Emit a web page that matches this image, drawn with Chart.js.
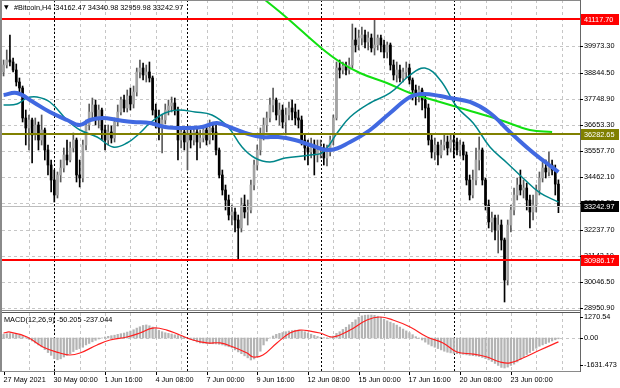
<!DOCTYPE html>
<html>
<head>
<meta charset="utf-8">
<script src="https://cdn.jsdelivr.net/npm/chart.js@4.4.1/dist/chart.umd.min.js"></script>
<style>
  html, body { margin: 0; padding: 0; background: #fff; }
</style>
</head>
<body>
<canvas id="chart" width="620" height="388"></canvas>
<script>
// H4 bars, one per index, 27 May 2021 08:00 .. 25 Jun 2021
const firstOpen = 38879
const closes = [39173,39384,39300,38963,38458,38206,36944,36523,36860,36229,
  36649,36018,36439,35598,34966,34335,33704,34546,34840,35387,
  35177,35682,36018,34546,34420,35808,36649,37196,37491,36944,
  37280,36439,36018,36355,36102,36775,37196,37701,37364,37869,
  37533,38038,38879,39047,38753,38879,38627,37280,36944,36523,
  36860,37280,37449,37575,37280,36018,36355,35934,36229,36018,
  36355,35934,36102,36439,36018,36523,36355,35598,34546,33915,
  33494,32863,32989,32653,32316,33284,32989,33073,34125,34966,
  35598,36229,36649,36944,37491,37701,37070,37280,36775,37070,
  37364,37196,36944,36860,36018,35682,35513,35808,35387,35598,
  35682,35261,35513,36018,36944,39047,38963,39131,38963,39173,
  40225,40015,40309,40436,40141,40309,39889,40015,40309,40015,
  39720,40015,39173,38753,38963,38627,38879,39047,38542,38122,
  37911,38122,37701,37364,36018,35513,35808,35387,35808,35934,
  35682,36018,35934,35598,35808,35387,34335,33704,34335,35177,
  35598,34335,33284,32568,32737,32232,32442,31811,30128,32442,
  33073,33704,34125,33915,33999,33494,32989,33284,33915,34420,
  34840,34672,34966,34756,34162.47,33242.97]
const highs = [39384,39805,40436,39468,39216,38627,38290,37280,37070,36944,
  36944,36775,37070,36523,35808,35177,34756,34672,35177,35682,
  36018,35934,36313,36102,35177,36018,36860,37533,37785,37701,
  37491,37364,36649,36649,36607,36944,37491,37827,37911,38122,
  38206,38290,39047,39384,39258,39173,39300,38711,37533,37280,
  37070,37533,37701,37827,37785,37407,36523,36523,36439,36439,
  36565,36523,36439,36607,36649,36860,36691,36649,35682,34756,
  34125,33704,33284,33157,32863,33578,33704,33494,34335,35177,
  35808,36523,36944,37196,37785,38206,37785,37575,37491,37364,
  37617,37701,37533,37280,37028,36229,36018,36102,36018,36018,
  36018,35850,35808,36186,37070,39300,39384,39300,39300,39468,
  40898,40730,40646,40772,40646,40562,40478,41117,40436,40436,
  40225,40141,40099,39384,39300,39173,39047,39300,39216,38627,
  38332,38290,38206,37911,37533,36229,36102,35934,36018,36229,
  36186,36271,36229,36102,36018,35934,35513,34546,34756,35682,
  36144,35682,34420,33494,32989,32863,32863,32653,31895,32653,
  33284,33999,34420,34756,34335,34209,33704,33704,34125,34672,
  35093,35177,35513,35177,34966,34340.98]
const lows = [38711,39047,39131,38879,38290,38038,36775,35808,35598,35051,
  36018,35598,35808,35177,34546,33831,33410,33578,34251,34672,
  34966,35093,35513,34251,34041,34251,35598,36439,36944,36649,
  36523,36018,35598,35808,35892,35934,36607,37070,37196,37196,
  37280,37364,37869,38627,38542,38458,38458,37070,36523,36018,
  35471,36691,37070,37196,37070,35177,35682,35598,34756,35682,
  35808,35177,35682,35934,35808,35850,36018,35387,34420,33704,
  33073,32653,32442,32148,30990,32148,32737,32442,32947,33915,
  34756,35387,36018,36355,36775,37196,36860,36649,36523,36229,
  36860,36860,36649,36523,35808,35177,34966,35261,34546,35093,
  35261,34966,34924,35345,35808,36860,38627,38795,38753,38795,
  39047,39720,39805,40015,39889,39805,39720,39594,39805,39720,
  39468,39468,38963,38542,38458,38458,38458,38627,38374,37701,
  37491,37617,37280,36944,35808,35261,35177,34966,35261,35598,
  35387,35513,35261,35387,35345,35177,34125,33494,33578,34125,
  34756,34125,33073,32316,32148,31811,31264,31390,29203,29918,
  32148,32863,33494,33704,33578,33073,32316,32653,32989,33704,
  34251,34420,34504,34546,33704,32959.98]

// moving averages, read at bar positions
const maBlueAt = [0,4.2,9.3,14.6,20,24,27.3,31.4,35.8,40.8,46.2,50.9,57.2,62.6,67.3,72,76.2,81.5,86.6,91.9,96.7,103,109.3,115.6,121.9,128.2,132.3,137.7,140.8,147.1,153.4,159.7,166,170.8,175]
const maBlue = [37911,37995,37617,37196,36860,36649,36860,36944,36860,36775,36733,36565,36523,36565,36733,36523,36313,36144,36144,36018,35808,35598,35934,36439,37154,37827,37953,37869,37785,37617,37154,36355,35598,35093,34672]
const maTealAt = [0,4.2,7.4,10.5,14.6,20,24.1,29.5,34.5,38.9,43,46.2,50.9,55,60.4,65.7,70.8,75.2,79.3,84,88.8,96.7,100.8,105.2,109.3,115.6,121.9,128.2,132.9,137.7,143,148.1,153.4,158.8,163.8,169.2,175]
const maTeal = [37491,37533,37785,37827,37617,36860,36439,36144,35724,35892,36313,36733,37154,37280,37196,37070,36565,35724,35261,35093,35261,35387,35513,36313,36986,37575,37996,38753,39047,38542,37407,36733,35724,35051,34420,33789,33410]
const maGreenAt = [82.5,89.4,99.8,106.1,112.4,120.9,128.2,135.5,146.2,156.6,166,173]
const maGreen = [41908,41151,39931,39300,38837,38416,37996,37701,37280,36860,36439,36355]

// MACD(12,26,9)
const macdHist = [220,260,270,250,220,160,90,20,-80,-180,
  -300,-420,-540,-700,-880,-1050,-1250,-1320,-1260,-1150,
  -1050,-950,-820,-700,-640,-560,-420,-330,-230,-140,
  -60,0,60,100,140,170,220,260,300,360,
  420,500,600,680,760,790,740,660,560,460,
  380,320,280,240,190,150,100,60,0,-80,
  -160,-240,-300,-320,-330,-340,-350,-360,-380,-420,
  -480,-530,-600,-720,-840,-950,-1080,-1200,-1330,-1270,
  -1120,-800,-420,-180,0,120,220,280,330,380,
  420,450,470,480,450,380,300,230,160,90,
  40,20,10,20,120,280,380,520,650,800,
  950,1100,1250,1340,1380,1390,1390,1370,1320,1260,
  1140,1040,960,880,780,660,540,430,320,200,
  80,-20,-120,-250,-380,-480,-560,-640,-720,-800,
  -860,-900,-930,-950,-970,-990,-1020,-1050,-1070,-1090,
  -1120,-1180,-1250,-1320,-1420,-1540,-1660,-1780,-1815,-1760,
  -1660,-1580,-1450,-1300,-1150,-1000,-880,-760,-620,-500,
  -420,-340,-260,-180,-110,-50.205]
const macdSignalAt = [0,2,7.4,12.4,17.8,20.9,24.1,29.5,33.6,38.9,43,47.1,51.5,55.6,59.7,64.2,68.3,72.4,76.8,78.7,81.8,86.2,90.3,93.5,96.7,99.8,103.9,109.3,114.6,118.7,122.8,128.2,133.6,138.6,143,148.1,152.5,156.6,159.7,163.8,169.2,175]
const macdSignal = [300,360,60,-545,-910,-1030,-910,-420,-120,60,300,600,480,180,-120,-300,-300,-545,-910,-1150,-1030,-300,300,480,420,300,60,480,1090,1270,1090,670,60,-300,-850,-970,-1150,-1450,-1510,-1210,-730,-237.044]

// axes
const priceTicks = [39973.30,38844.50,37748.90,36653.30,35557.70,34462.10,33366.50,32237.70,31142.10,30046.50,28950.90]
const macdTicks = [1270.54, 0, -1631.473]
const macdTickLabels = ['1270.54', '0.00', '-1631.473']
const dateLabels = ['27 May 2021','30 May 00:00','1 Jun 16:00','4 Jun 08:00','7 Jun 00:00','9 Jun 16:00','12 Jun 08:00','15 Jun 00:00','17 Jun 16:00','20 Jun 08:00','23 Jun 00:00']
const dateLabelAt = [0,16,32,48,64,80,96,112,128,144,160]
const weekStartAt = [16,58,100,142]
const levels = [41117.70, 36282.65, 30986.17]
const levelColors = ['#ff0000', '#808000', '#ff0000']
const lastPrice = 33242.97
const title = '#Bitcoin,H4  34162.47 34340.98 32959.98 33242.97'
const macdTitle = 'MACD(12,26,9) -50.205 -237.044'

const MAIN_BOTTOM = 310
const MACD_TOP = 313
const FONT = '7.3px "Liberation Sans", Arial, sans-serif'

const opens = closes.map((c, i) => i === 0 ? firstOpen : closes[i - 1])
const isUp = closes.map((c, i) => c >= opens[i])

function pts(at, vals) {
    return at.map((x, i) => ({x: x, y: vals[i]}))
}

function hline(ctx, x1, x2, y) {
    ctx.beginPath(); ctx.moveTo(x1, y); ctx.lineTo(x2, y); ctx.stroke()
}
function vline(ctx, x, y1, y2) {
    ctx.beginPath(); ctx.moveTo(x, y1); ctx.lineTo(x, y2); ctx.stroke()
}

const mt4 = {
    id: 'mt4',
    beforeDatasetsDraw(chart) {
        let {ctx, chartArea: a, scales} = chart
        let x = scales.x, y = scales.y, m = scales.m
        ctx.save()
        ctx.lineWidth = 1
        // grid
        ctx.strokeStyle = '#c6c6c6'
        ctx.setLineDash([3, 3])
        priceTicks.forEach(v => hline(ctx, a.left, a.right, Math.round(y.getPixelForValue(v)) + 0.5))
        hline(ctx, a.left, a.right, Math.round(m.getPixelForValue(0)) + 0.5)
        for (let i = 8; i < 182; i += 8) {
            let px = Math.round(x.getPixelForValue(i)) + 0.5
            vline(ctx, px, a.top, MAIN_BOTTOM)
            vline(ctx, px, MACD_TOP, a.bottom)
        }
        // week separators
        ctx.strokeStyle = '#000'
        ctx.setLineDash([2, 2])
        weekStartAt.forEach(i => {
            let px = Math.round(x.getPixelForValue(i)) + 0.5
            vline(ctx, px, a.top, MAIN_BOTTOM)
            vline(ctx, px, MACD_TOP, a.bottom)
        })
        ctx.restore()
    },
    afterDatasetsDraw(chart) {
        let {ctx, chartArea: a, scales} = chart
        let y = scales.y
        ctx.save()
        // bid line
        ctx.strokeStyle = '#bdbdbd'
        ctx.lineWidth = 1
        hline(ctx, a.left, a.right, Math.round(y.getPixelForValue(lastPrice)) + 0.5)
        // levels
        ctx.lineWidth = 2
        levels.forEach((v, k) => {
            ctx.strokeStyle = levelColors[k]
            hline(ctx, a.left, a.right, Math.round(y.getPixelForValue(v)))
        })
        ctx.restore()
    },
    afterDraw(chart) {
        let {ctx, chartArea: a, scales} = chart
        let x = scales.x, y = scales.y, m = scales.m
        ctx.save()
        // frame
        ctx.strokeStyle = '#8a8a8a'
        ctx.lineWidth = 1
        hline(ctx, 0, a.right, 0.5)
        hline(ctx, 0, a.right, MAIN_BOTTOM + 0.5)
        ctx.strokeStyle = '#555'
        hline(ctx, 0, a.right, MACD_TOP - 0.5)
        ctx.strokeStyle = '#8a8a8a'
        hline(ctx, 0, a.right, a.bottom + 0.5)
        ctx.fillStyle = '#8a8a8a'
        ctx.fillRect(0, 0, 2, a.bottom + 1)
        ctx.strokeStyle = '#666'
        vline(ctx, a.right + 0.5, 0, a.bottom + 1)

        ctx.font = FONT
        ctx.textBaseline = 'middle'
        ctx.textAlign = 'left'
        ctx.fillStyle = '#000'
        ctx.strokeStyle = '#000'
        // price scale
        priceTicks.forEach(v => {
            let py = Math.round(y.getPixelForValue(v))
            hline(ctx, a.right, a.right + 3, py + 0.5)
            ctx.fillText(v.toFixed(2), a.right + 4, py)
        })
        macdTicks.forEach((v, k) => {
            let py = Math.round(m.getPixelForValue(v))
            hline(ctx, a.right, a.right + 3, py + 0.5)
            ctx.fillText(macdTickLabels[k], a.right + 4, py)
        })
        // level boxes
        let boxes = levels.map((v, k) => [v, levelColors[k]]).concat([[lastPrice, '#000']])
        boxes.forEach(b => {
            let py = Math.round(y.getPixelForValue(b[0]))
            ctx.fillStyle = b[1]
            ctx.fillRect(a.right + 1, py - 5, 38, 11)
            ctx.fillStyle = '#fff'
            ctx.fillText(b[0].toFixed(2), a.right + 4, py + 0.5)
        })
        // time scale
        ctx.fillStyle = '#000'
        dateLabelAt.forEach((i, k) => {
            let px = Math.round(x.getPixelForValue(i)) + 0.5
            vline(ctx, px, a.bottom + 1, a.bottom + 4)
            ctx.fillText(dateLabels[k], px - 1, a.bottom + 8.5)
        })
        // titles
        ctx.font = '6px "DejaVu Sans", sans-serif'
        ctx.fillText('\u25BC', 4, 7.5)
        ctx.font = FONT
        ctx.fillText(title, 14, 7.5)
        ctx.fillText(macdTitle, 4, 319.5)
        ctx.restore()
    }
}

new Chart(document.getElementById('chart'), {
    type: 'bar',
    data: {
        datasets: [
            {type: 'line', data: pts(maBlueAt, maBlue), yAxisID: 'y', borderColor: '#4169e1', borderWidth: 4,
                pointRadius: 0, tension: 0.4, order: 1},
            {type: 'line', data: pts(maTealAt, maTeal), yAxisID: 'y', borderColor: '#00868a', borderWidth: 1.5,
                pointRadius: 0, tension: 0.4, order: 2},
            {type: 'line', data: pts(maGreenAt, maGreen), yAxisID: 'y', borderColor: '#11e011', borderWidth: 2,
                pointRadius: 0, tension: 0.4, order: 3},
            {type: 'line', data: pts(macdSignalAt, macdSignal), yAxisID: 'm', borderColor: '#ff2020', borderWidth: 1.2,
                pointRadius: 0, tension: 0.4, order: 4},
            {type: 'bar', data: closes.map((c, i) => ({x: i, y: [opens[i], c]})), yAxisID: 'y',
                backgroundColor: isUp.map(u => u ? '#a3a3a3' : '#000'), barThickness: 2, grouped: false, order: 6},
            {type: 'bar', data: closes.map((c, i) => ({x: i, y: [lows[i], highs[i]]})), yAxisID: 'y',
                backgroundColor: isUp.map(u => u ? '#5a5a5a' : '#000'), barThickness: 1, grouped: false, order: 7},
            {type: 'bar', data: macdHist.map((v, i) => ({x: i, y: v})), yAxisID: 'm',
                backgroundColor: '#b4b4b4', barThickness: 1.6, grouped: false, order: 8}
        ]
    },
    options: {
        responsive: false,
        animation: false,
        events: [],
        layout: {padding: {left: 2, right: 40, top: 0, bottom: 17}},
        plugins: {legend: {display: false}, tooltip: {enabled: false}},
        scales: {
            x: {type: 'linear', min: -0.5, max: 181.8, offset: false, display: false},
            y: {type: 'linear', min: 26300, max: 41908, display: false},
            m: {type: 'linear', min: -1996.5, max: 20449, display: false}
        }
    },
    plugins: [mt4]
})
</script>
</body>
</html>
